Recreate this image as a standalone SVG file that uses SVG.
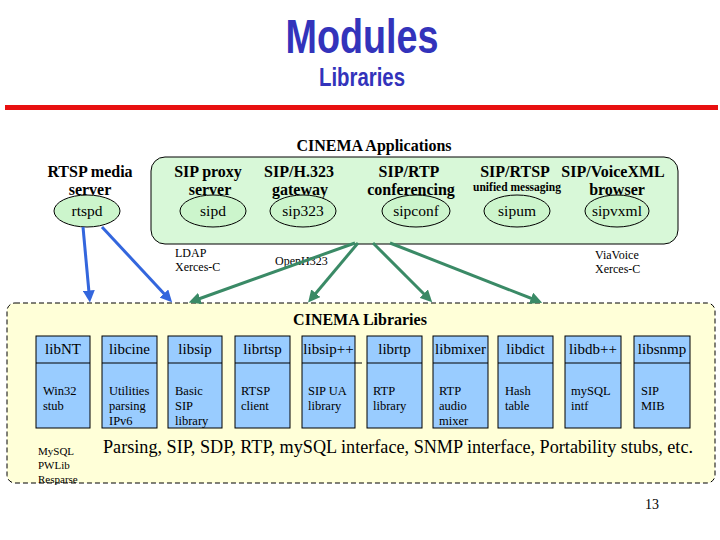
<svg xmlns="http://www.w3.org/2000/svg" width="720" height="540" viewBox="0 0 720 540">
<style>
text{font-family:'Liberation Serif','Times New Roman','DejaVu Serif',serif}
.b{font-weight:bold;font-size:16px;text-anchor:middle}
.e{fill:#ccf5cc;stroke:#000;stroke-width:1}
.el{font-size:15.5px;text-anchor:middle}
.lib{fill:#99ccff;stroke:#000;stroke-width:1}
.lh{font-size:15px;text-anchor:middle}
.ld{font-size:12.5px}
.sm{font-size:12px}
.ttl{font-family:'Liberation Sans',sans-serif;font-weight:bold;fill:#3333bb;text-anchor:middle}
.blue{stroke:#3366dd;stroke-width:3;fill:none}
.green{stroke:#3a8a66;stroke-width:3;fill:none}
</style>
<defs>
<marker id="ab" markerWidth="4" markerHeight="4" refX="2.5" refY="2" orient="auto" markerUnits="strokeWidth"><path d="M0,0 L4,2 L0,4 Z" fill="#3366dd"/></marker>
<marker id="ag" markerWidth="4" markerHeight="4" refX="2.5" refY="2" orient="auto" markerUnits="strokeWidth"><path d="M0,0 L4,2 L0,4 Z" fill="#3a8a66"/></marker>
</defs>
<rect width="720" height="540" fill="#fff"/>
<g id="title">
<text class="ttl" x="362" y="53" font-size="48" textLength="153" lengthAdjust="spacingAndGlyphs">Modules</text>
<text class="ttl" x="362" y="86" font-size="26" textLength="86" lengthAdjust="spacingAndGlyphs">Libraries</text>
<rect x="5" y="105" width="713" height="5" fill="#e81010"/>
</g>
<g id="apps">
<rect x="151" y="157" width="527" height="87" rx="14" fill="#d8f8d8" stroke="#000"/>
<text class="b" x="374" y="151">CINEMA Applications</text>
</g>
<g id="rtspd">
<text class="b" x="90" y="177">RTSP media</text>
<text class="b" x="90" y="195">server</text>
<ellipse class="e" cx="87" cy="211" rx="33" ry="16"/>
<text class="el" x="87" y="216">rtspd</text>
</g>
<g id="sipd">
<text class="b" x="208" y="177">SIP proxy</text>
<text class="b" x="210" y="195">server</text>
<ellipse class="e" cx="213" cy="211" rx="33" ry="16"/>
<text class="el" x="213" y="216">sipd</text>
</g>
<g id="sip323">
<text class="b" x="299" y="177">SIP/H.323</text>
<text class="b" x="300" y="195">gateway</text>
<ellipse class="e" cx="303" cy="211" rx="33" ry="16"/>
<text class="el" x="303" y="216">sip323</text>
</g>
<g id="sipconf">
<text class="b" x="409" y="177">SIP/RTP</text>
<text class="b" x="411" y="195">conferencing</text>
<ellipse class="e" cx="416" cy="211" rx="34" ry="16"/>
<text class="el" x="416" y="216">sipconf</text>
</g>
<g id="sipum">
<text class="b" x="515" y="177">SIP/RTSP</text>
<text x="517" y="191" font-weight="bold" font-size="11.5" text-anchor="middle">unified messaging</text>
<ellipse class="e" cx="517" cy="211" rx="33" ry="16"/>
<text class="el" x="517" y="216">sipum</text>
</g>
<g id="sipvxml">
<text class="b" x="613" y="177">SIP/VoiceXML</text>
<text class="b" x="617" y="195">browser</text>
<ellipse class="e" cx="617" cy="211" rx="32" ry="16"/>
<text class="el" x="617" y="216">sipvxml</text>
</g>
<g id="deps">
<text class="sm" x="175" y="257">LDAP</text>
<text class="sm" x="175" y="271">Xerces-C</text>
<text class="sm" x="275" y="265">OpenH323</text>
<text class="sm" x="595" y="259">ViaVoice</text>
<text class="sm" x="595" y="273">Xerces-C</text>
</g>
<g id="libraries">
<rect x="7" y="303" width="708" height="180" rx="8" fill="#ffffd8" stroke="#000" stroke-dasharray="5,3"/>
<text class="b" x="360" y="325">CINEMA Libraries</text>
<text x="103" y="453" font-size="18" textLength="590" lengthAdjust="spacingAndGlyphs">Parsing, SIP, SDP, RTP, mySQL interface, SNMP interface, Portability stubs, etc.</text>
<text x="38" y="455" font-size="11">MySQL</text>
<text x="38" y="469" font-size="11">PWLib</text>
<text x="38" y="483" font-size="11">Resparse</text>
</g>
<g id="libNT"><rect class="lib" x="36" y="336" width="54" height="92"/><line x1="36" y1="363" x2="90" y2="363" stroke="#000"/><text class="lh" x="63" y="354">libNT</text><text class="ld" x="43" y="395">Win32</text><text class="ld" x="43" y="410">stub</text></g>
<g id="libcine"><rect class="lib" x="102" y="336" width="55" height="92"/><line x1="102" y1="363" x2="157" y2="363" stroke="#000"/><text class="lh" x="129.5" y="354">libcine</text><text class="ld" x="109" y="395">Utilities</text><text class="ld" x="109" y="410">parsing</text><text class="ld" x="109" y="425">IPv6</text></g>
<g id="libsip"><rect class="lib" x="168" y="336" width="54" height="92"/><line x1="168" y1="363" x2="222" y2="363" stroke="#000"/><text class="lh" x="195" y="354">libsip</text><text class="ld" x="175" y="395">Basic</text><text class="ld" x="175" y="410">SIP</text><text class="ld" x="175" y="425">library</text></g>
<g id="librtsp"><rect class="lib" x="235" y="336" width="55" height="92"/><line x1="235" y1="363" x2="290" y2="363" stroke="#000"/><text class="lh" x="262.5" y="354">librtsp</text><text class="ld" x="241" y="395">RTSP</text><text class="ld" x="241" y="410">client</text></g>
<g id="libsippp"><rect class="lib" x="302" y="336" width="53" height="92"/><line x1="302" y1="363" x2="362" y2="363" stroke="#000"/><text class="lh" x="328.5" y="354">libsip++</text><text class="ld" x="308" y="395">SIP UA</text><text class="ld" x="308" y="410">library</text></g>
<g id="librtp"><rect class="lib" x="367" y="336" width="55" height="92"/><line x1="367" y1="363" x2="422" y2="363" stroke="#000"/><text class="lh" x="394.5" y="354">librtp</text><text class="ld" x="373" y="395">RTP</text><text class="ld" x="373" y="410">library</text></g>
<g id="libmixer"><rect class="lib" x="433" y="336" width="55" height="92"/><line x1="433" y1="363" x2="488" y2="363" stroke="#000"/><text class="lh" x="460.5" y="354">libmixer</text><text class="ld" x="439" y="395">RTP</text><text class="ld" x="439" y="410">audio</text><text class="ld" x="439" y="425">mixer</text></g>
<g id="libdict"><rect class="lib" x="498" y="336" width="55" height="92"/><line x1="498" y1="363" x2="553" y2="363" stroke="#000"/><text class="lh" x="525.5" y="354">libdict</text><text class="ld" x="505" y="395">Hash</text><text class="ld" x="505" y="410">table</text></g>
<g id="libdbpp"><rect class="lib" x="565" y="336" width="56" height="92"/><line x1="565" y1="363" x2="621" y2="363" stroke="#000"/><text class="lh" x="593" y="354">libdb++</text><text class="ld" x="571" y="395">mySQL</text><text class="ld" x="571" y="410">intf</text></g>
<g id="libsnmp"><rect class="lib" x="634" y="336" width="56" height="92"/><line x1="634" y1="363" x2="690" y2="363" stroke="#000"/><text class="lh" x="662" y="354">libsnmp</text><text class="ld" x="641" y="395">SIP</text><text class="ld" x="641" y="410">MIB</text></g>
<g id="connectors">
<line class="blue" x1="83" y1="227" x2="89.5" y2="298" marker-end="url(#ab)"/>
<line class="blue" x1="102" y1="227" x2="169" y2="299" marker-end="url(#ab)"/>
<line class="green" x1="355" y1="243" x2="193" y2="301" marker-end="url(#ag)"/>
<line class="green" x1="358" y1="243" x2="311" y2="299" marker-end="url(#ag)"/>
<line class="green" x1="373" y1="243" x2="429" y2="299" marker-end="url(#ag)"/>
<line class="green" x1="390" y1="243" x2="538" y2="301" marker-end="url(#ag)"/>
</g>
<text x="652" y="509" font-size="14" text-anchor="middle">13</text>
</svg>
